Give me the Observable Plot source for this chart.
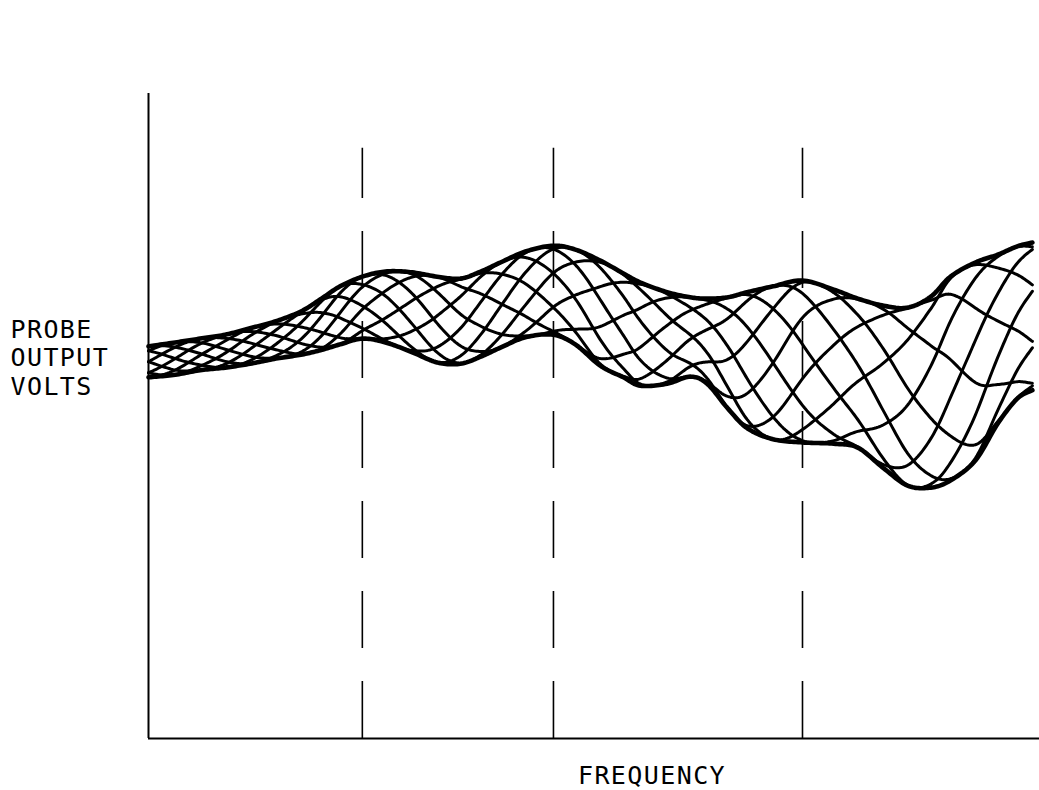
<!DOCTYPE html>
<html>
<head>
<meta charset="utf-8">
<script src="https://cdn.jsdelivr.net/npm/d3@7"></script>
<script src="https://cdn.jsdelivr.net/npm/@observablehq/plot@0.6"></script>
<style>
html, body { margin: 0; padding: 0; background: #fff; }
#chart svg { display: block; }
g[aria-label="text"] text { letter-spacing: 1.4px; }
</style>
</head>
<body>
<div id="chart"></div>
<script>
// Frequency samples (arbitrary units, 0–100 along the axis)
const frequency = [0, 3.0, 5.8, 8.6, 11.4, 14.3, 17.1, 19.3, 21.5, 24.0, 26.6, 29.4, 32.4, 35.0, 37.3, 39.5, 42.3, 45.4, 47.9, 50.7, 53.3, 55.2, 58.2, 60.8, 62.7, 65.0, 67.2, 70.1, 73.4, 76.9, 79.6, 82.5, 85.2, 87.8, 90.0, 92.8, 95.3, 97.5, 99.2];
// Upper envelope of the probe output (arbitrary volts, axis 0–100)
const upperEnvelope = [60.8, 61.4, 62.0, 62.6, 63.6, 64.7, 66.2, 68.1, 70.1, 71.6, 72.4, 72.3, 71.6, 71.3, 72.4, 73.8, 75.5, 76.4, 75.8, 74.1, 72.1, 70.7, 69.2, 68.4, 68.2, 68.4, 69.2, 70.1, 71.0, 69.6, 68.2, 67.1, 66.8, 68.5, 71.6, 73.8, 75.0, 76.3, 76.9];
// Lower envelope of the probe output
const lowerEnvelope = [56.0, 56.4, 57.1, 57.5, 58.1, 58.9, 59.5, 60.2, 61.1, 62.0, 61.4, 60.0, 58.3, 58.1, 59.2, 60.6, 62.2, 62.6, 61.1, 57.8, 56.0, 54.7, 55.0, 56.1, 55.0, 51.2, 48.1, 46.4, 45.9, 45.7, 45.1, 41.9, 39.2, 38.9, 40.0, 43.1, 48.8, 52.7, 54.0];
// Standing-wave phase (cycles) at each frequency sample
const wavePhase = [0, 0.125, 0.241, 0.356, 0.472, 0.588, 0.704, 0.796, 0.889, 0.991, 1.075, 1.166, 1.264, 1.348, 1.421, 1.494, 1.585, 1.687, 1.756, 1.834, 1.906, 1.959, 2.044, 2.116, 2.169, 2.231, 2.294, 2.375, 2.466, 2.545, 2.607, 2.673, 2.735, 2.794, 2.845, 2.909, 2.965, 3.017, 3.055];
// Probe positions (fraction of a half wavelength along the line)
const probePositions = [0, 0.125, 0.25, 0.375, 0.5, 0.625, 0.75, 0.875];
// Marker frequencies (dashed verticals)
const markerFrequencies = [24.0, 45.45, 73.4];
const xLabel = "FREQUENCY";
const yLabel = "PROBE\nOUTPUT\nVOLTS";

// Smooth (Catmull-Rom) resampling of the sampled arrays
function cr(p0, p1, p2, p3, t) {
  const t2 = t * t, t3 = t2 * t;
  return 0.5 * ((2 * p1) + (-p0 + p2) * t + (2 * p0 - 5 * p1 + 4 * p2 - p3) * t2 + (-p0 + 3 * p1 - 3 * p2 + p3) * t3);
}
function resample(arr, steps) {
  const out = [];
  const n = arr.length;
  for (let k = 0; k < n - 1; k++) {
    const p0 = arr[Math.max(0, k - 1)], p1 = arr[k], p2 = arr[k + 1], p3 = arr[Math.min(n - 1, k + 2)];
    for (let s = 0; s < steps; s++) out.push(cr(p0, p1, p2, p3, s / steps));
  }
  out.push(arr[n - 1]);
  return out;
}
const STEPS = 14;
const fD = resample(frequency, STEPS);
const uD = resample(upperEnvelope, STEPS);
const lD = resample(lowerEnvelope, STEPS);
const pD = resample(wavePhase, STEPS);

const envelope = [];
fD.forEach((f, i) => envelope.push({f, v: uD[i], side: "upper"}));
fD.forEach((f, i) => envelope.push({f, v: lD[i], side: "lower"}));

const mesh = [];
probePositions.forEach((d, c) => {
  fD.forEach((f, i) => {
    const mid = (uD[i] + lD[i]) / 2;
    const half = (uD[i] - lD[i]) / 2;
    mesh.push({f, v: mid + half * Math.cos(2 * Math.PI * (pD[i] - d)), curve: c});
  });
});

const ink = "#000";
const chart = Plot.plot({
  width: 1039,
  height: 790,
  marginLeft: 148,
  marginRight: 0,
  marginTop: 93,
  marginBottom: 52,
  x: {domain: [0, 100], axis: null},
  y: {domain: [0, 100], axis: null},
  marks: [
    Plot.ruleX(markerFrequencies, {x: d => d, y1: 0, y2: 91.5, stroke: ink, strokeWidth: 1.6, strokeDasharray: "57,33"}),
    Plot.line(mesh, {x: "f", y: "v", z: "curve", stroke: ink, strokeWidth: 3, strokeLinecap: "round", strokeLinejoin: "round"}),
    Plot.line(envelope, {x: "f", y: "v", z: "side", stroke: ink, strokeWidth: 4.6, strokeLinecap: "round", strokeLinejoin: "round"}),
    Plot.ruleX([0], {y1: 0, y2: 100, stroke: ink, strokeWidth: 2}),
    Plot.ruleY([0], {x1: 0, x2: 100, stroke: ink, strokeWidth: 2}),
    Plot.text([xLabel], {text: d => d, frameAnchor: "bottom", dx: 58, dy: 37, lineAnchor: "middle", textAnchor: "middle", fontFamily: "DejaVu Sans Mono", fontSize: 25, fill: ink}),
    Plot.text([yLabel], {text: d => d, frameAnchor: "left", dx: -138, dy: -59, lineAnchor: "middle", textAnchor: "start", lineHeight: 1.14, fontFamily: "DejaVu Sans Mono", fontSize: 25, fill: ink})
  ]
});
document.getElementById("chart").appendChild(chart);
</script>
</body>
</html>
